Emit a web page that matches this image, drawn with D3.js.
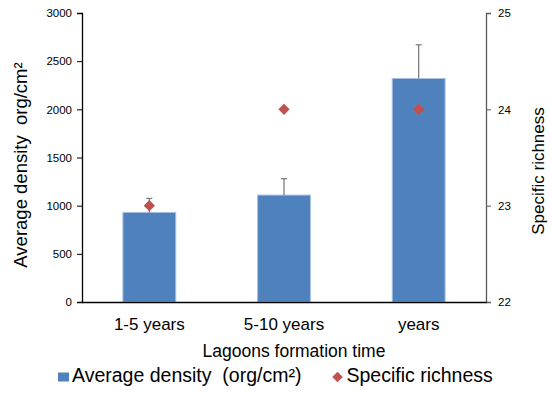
<!DOCTYPE html>
<html>
<head>
<meta charset="utf-8">
<script src="https://cdn.jsdelivr.net/npm/d3@7"></script>
<style>
  body { margin: 0; background: #fff; }
  svg { font-family: Arial, "Liberation Sans", sans-serif; }
  svg text { white-space: pre; }
</style>
</head>
<body>
<div id="chart"></div>
<script>
// Lagoons: density bars with error bars + richness diamonds on a second axis
const categories = ["1-5 years", "5-10 years", "years"];
const densityValues = [930, 1110, 2320];
const densityErrors = [145, 170, 350];
const richnessValues = [23, 24, 24];
const leftTicks = [0, 500, 1000, 1500, 2000, 2500, 3000];
const rightTicks = [22, 23, 24, 25];

const width = 551;
const height = 393;
const margin = { top: 13, right: 65, bottom: 91, left: 82 };
const plotBottom = height - margin.bottom;   // 302
const plotRight = width - margin.right;      // 486

const svg = d3.select("#chart")
    .append("svg")
    .attr("width", width)
    .attr("height", height);

const xScale = d3.scaleBand()
    .domain(categories)
    .range([margin.left, plotRight])
    .paddingInner(0.6)
    .paddingOuter(0.3);

const yLeft = d3.scaleLinear()
    .domain([0, 3000])
    .range([plotBottom, margin.top]);

const yRight = d3.scaleLinear()
    .domain([22, 25])
    .range([plotBottom, margin.top]);

// bars
svg.selectAll("rect.bar")
    .data(densityValues)
    .enter()
    .append("rect")
    .attr("class", "bar")
    .attr("x", (d, i) => xScale(categories[i]) + 0.5)
    .attr("y", d => yLeft(d))
    .attr("width", xScale.bandwidth() - 1)
    .attr("height", d => plotBottom - yLeft(d))
    .attr("fill", "#4f81bd")
    .attr("stroke", "#a7c0e3")
    .attr("stroke-width", 1);

// error bars (upper only)
const errG = svg.append("g")
    .attr("stroke", "#7f7f7f")
    .attr("stroke-width", 1.3);

densityValues.forEach((v, i) => {
    const cx = xScale(categories[i]) + xScale.bandwidth() / 2;
    errG.append("line")
        .attr("x1", cx).attr("x2", cx)
        .attr("y1", yLeft(v)).attr("y2", yLeft(v + densityErrors[i]));
    errG.append("line")
        .attr("x1", cx - 3).attr("x2", cx + 3)
        .attr("y1", yLeft(v + densityErrors[i])).attr("y2", yLeft(v + densityErrors[i]));
});

// richness diamonds
const diamond = d3.symbol().type(d3.symbolDiamond2).size(80);
svg.selectAll("path.rich")
    .data(richnessValues)
    .enter()
    .append("path")
    .attr("class", "rich")
    .attr("d", diamond)
    .attr("transform", (d, i) =>
        `translate(${xScale(categories[i]) + xScale.bandwidth() / 2},${yRight(d)})`)
    .attr("fill", "#c0504d");

// left axis
const leftAxis = svg.append("g")
    .attr("transform", `translate(${margin.left},0)`)
    .call(d3.axisLeft(yLeft).tickValues(leftTicks).tickFormat(d3.format("d"))
        .tickSize(5).tickPadding(5));
leftAxis.select(".domain").attr("stroke", "#000").attr("stroke-width", 1.3);
leftAxis.selectAll(".tick line").attr("stroke", "#000");
leftAxis.selectAll("text").attr("font-size", 11.5).attr("fill", "#000");

// right axis
const rightAxis = svg.append("g")
    .attr("transform", `translate(${plotRight},0)`)
    .call(d3.axisRight(yRight).tickValues(rightTicks).tickFormat(d3.format("d"))
        .tickSize(5).tickPadding(7));
rightAxis.select(".domain").attr("stroke", "#595959").attr("stroke-width", 1.3);
rightAxis.selectAll(".tick line").attr("stroke", "#595959");
rightAxis.selectAll("text").attr("font-size", 11.5).attr("fill", "#000");

// x axis
const xAxis = svg.append("g")
    .attr("transform", `translate(0,${plotBottom})`)
    .call(d3.axisBottom(xScale).tickSize(0).tickPadding(16));
xAxis.select(".domain").attr("stroke", "#000").attr("stroke-width", 1.3);
xAxis.selectAll("text").attr("font-size", 17).attr("fill", "#000");

// axis titles
svg.append("text")
    .attr("transform", "rotate(-90)")
    .attr("x", -165)
    .attr("y", 27)
    .attr("text-anchor", "middle")
    .attr("font-size", 18.5)
    .attr("fill", "#000")
    .text("Average density  org/cm²");

svg.append("text")
    .attr("transform", "rotate(-90)")
    .attr("x", -171)
    .attr("y", 544)
    .attr("text-anchor", "middle")
    .attr("font-size", 17)
    .attr("fill", "#000")
    .text("Specific richness");

svg.append("text")
    .attr("x", 294)
    .attr("y", 357)
    .attr("text-anchor", "middle")
    .attr("font-size", 17.5)
    .attr("fill", "#000")
    .text("Lagoons formation time");

// legend
const legend = svg.append("g");
legend.append("rect")
    .attr("x", 58).attr("y", 372.5)
    .attr("width", 11).attr("height", 9)
    .attr("fill", "#4f81bd");
legend.append("text")
    .attr("x", 72).attr("y", 382)
    .attr("font-size", 19.5)
    .attr("fill", "#000")
    .text("Average density  (org/cm²)");
legend.append("path")
    .attr("d", d3.symbol().type(d3.symbolDiamond2).size(70))
    .attr("transform", "translate(337.5,377)")
    .attr("fill", "#c0504d");
legend.append("text")
    .attr("x", 346.5).attr("y", 382)
    .attr("font-size", 19.5)
    .attr("fill", "#000")
    .text("Specific richness");
</script>
</body>
</html>
